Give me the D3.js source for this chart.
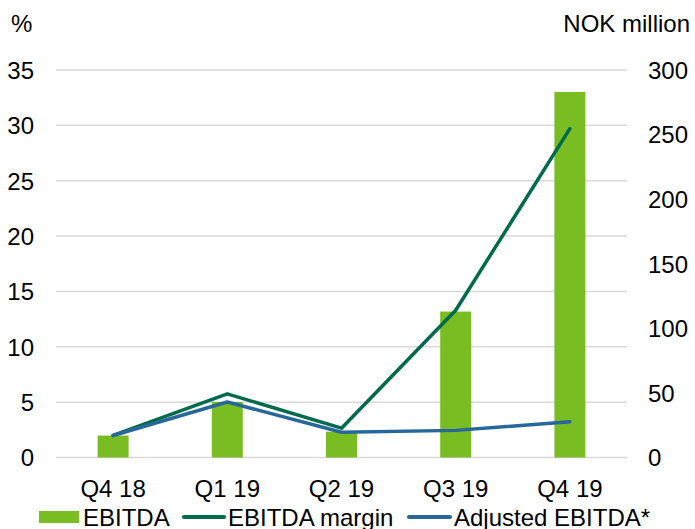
<!DOCTYPE html>
<html><head><meta charset="utf-8">
<script src="https://cdn.jsdelivr.net/npm/d3@7"></script>
<style>body{margin:0;background:#fff}svg{display:block}text{font-family:"Liberation Sans",Arial,sans-serif;fill:#000}</style>
</head><body><svg id="c" width="695" height="529"></svg>
<script>
const categories = ["Q4 18","Q1 19","Q2 19","Q3 19","Q4 19"];
const ebitda = [17, 43, 20, 113, 283];          // NOK million (right axis)
const ebitdaMargin = [2.0, 5.75, 2.65, 13.3, 29.7]; // % (left axis)
const adjustedEbitda = [17, 43, 19.5, 21, 27.7]; // NOK million (right axis)
const leftTicks = [0,5,10,15,20,25,30,35];
const rightTicks = [0,50,100,150,200,250,300];

const svg = d3.select("#c");
const L = 56, R = 627, T = 70, B = 457.5;
const x = d3.scaleBand().domain(categories).range([L,R]);
const yL = d3.scaleLinear().domain([0,35]).range([B,T]);
const yR = d3.scaleLinear().domain([0,300]).range([B,T]);

// grid
svg.append("g").selectAll("line").data(leftTicks).join("line")
  .attr("x1",L).attr("x2",R).attr("y1",d=>yL(d)).attr("y2",d=>yL(d))
  .attr("stroke","#d9d9d9").attr("stroke-width",1.5);

// left axis
const axL = d3.axisLeft(yL).tickValues(leftTicks).tickSize(0).tickPadding(0);
svg.append("g").attr("transform","translate(34,0)").call(axL)
  .call(g=>g.select(".domain").remove())
  .selectAll("text").attr("font-size",24).attr("font-family","Liberation Sans, Arial, sans-serif").attr("fill","#000").attr("dy","0.35em");
// right axis
const axR = d3.axisRight(yR).tickValues(rightTicks).tickSize(0).tickPadding(0);
svg.append("g").attr("transform","translate(648,0)").call(axR)
  .call(g=>g.select(".domain").remove())
  .selectAll("text").attr("font-size",24).attr("font-family","Liberation Sans, Arial, sans-serif").attr("fill","#000").attr("dy","0.35em");

svg.append("text").attr("x",11).attr("y",32).attr("font-size",24).text("%");
svg.append("text").attr("x",690).attr("y",32).attr("font-size",24).attr("text-anchor","end").text("NOK million");

// bars
const bw = 31;
svg.append("g").selectAll("rect").data(ebitda).join("rect")
  .attr("x",(d,i)=>x(categories[i])+x.bandwidth()/2-bw/2).attr("width",bw)
  .attr("y",d=>yR(d)).attr("height",d=>B-yR(d)).attr("fill","#7abd23");

// lines
const lineL = d3.line().x((d,i)=>x(categories[i])+x.bandwidth()/2).y(d=>yL(d));
const lineR = d3.line().x((d,i)=>x(categories[i])+x.bandwidth()/2).y(d=>yR(d));
svg.append("path").attr("d",lineL(ebitdaMargin)).attr("fill","none").attr("stroke","#006a4d").attr("stroke-width",3.5).attr("stroke-linejoin","round").attr("stroke-linecap","round");
svg.append("path").attr("d",lineR(adjustedEbitda)).attr("fill","none").attr("stroke","#28679a").attr("stroke-width",3.5).attr("stroke-linejoin","round").attr("stroke-linecap","round");

// x labels
svg.append("g").selectAll("text").data(categories).join("text")
  .attr("x",d=>x(d)+x.bandwidth()/2).attr("y",497).attr("text-anchor","middle").attr("font-size",24).text(d=>d);

// legend
const lg = svg.append("g");
lg.append("rect").attr("x",39).attr("y",511).attr("width",40).attr("height",12).attr("fill","#7abd23");
lg.append("text").attr("x",83).attr("y",526).attr("font-size",24).text("EBITDA");
lg.append("line").attr("x1",184).attr("x2",224).attr("y1",517).attr("y2",517).attr("stroke","#006a4d").attr("stroke-width",4).attr("stroke-linecap","round");
lg.append("text").attr("x",228).attr("y",526).attr("font-size",24).text("EBITDA margin");
lg.append("line").attr("x1",409).attr("x2",450).attr("y1",517).attr("y2",517).attr("stroke","#28679a").attr("stroke-width",4).attr("stroke-linecap","round");
lg.append("text").attr("x",454).attr("y",526).attr("font-size",24).text("Adjusted EBITDA*");
</script></body></html>
